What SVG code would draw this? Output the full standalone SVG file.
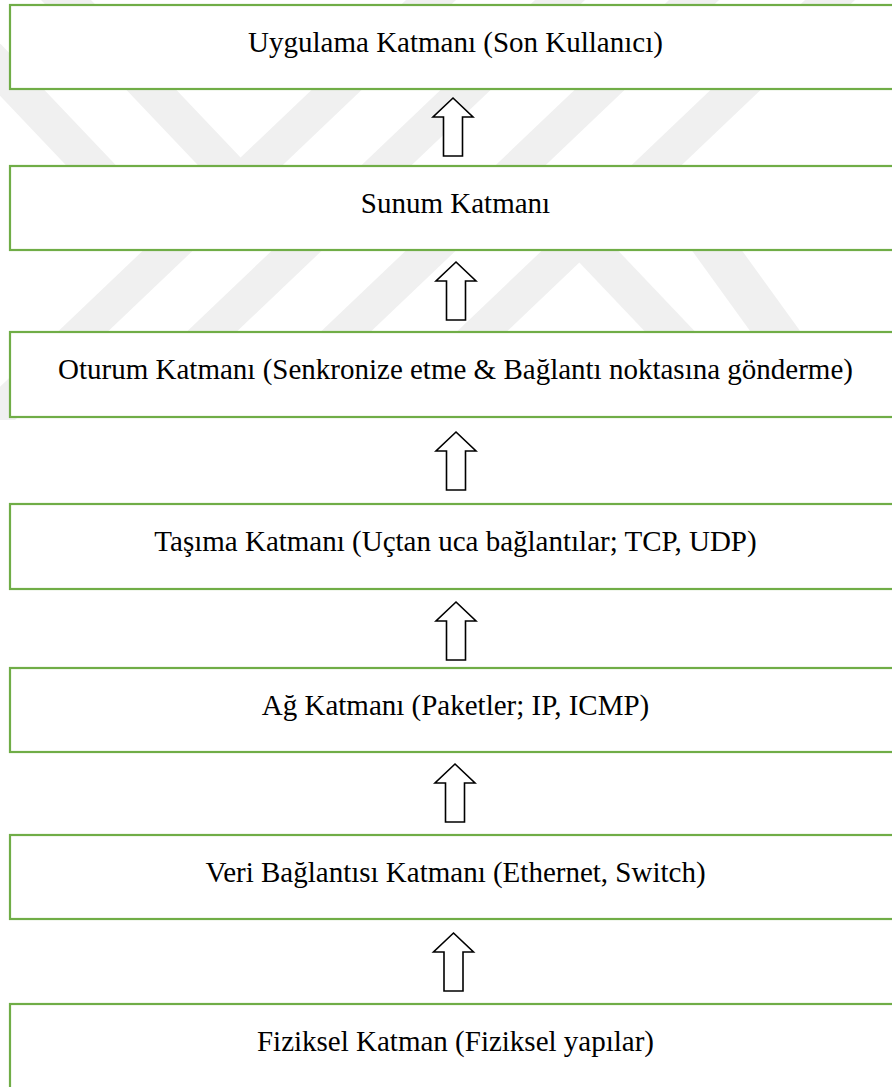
<svg xmlns="http://www.w3.org/2000/svg" width="892" height="1087" viewBox="0 0 892 1087">
<style>
.box{fill:#ffffff;stroke:#70AD47;stroke-width:2.2}
.lbl{font-family:"Liberation Serif","Times New Roman",serif;font-size:29px;fill:#000000;text-anchor:middle}
.arr{fill:#ffffff;stroke:#000000;stroke-width:1.6;stroke-linejoin:miter}
.wm{fill:#f0f0f0}
</style>
<defs>
<clipPath id="wmclip"><rect x="0" y="0" width="892" height="420"/></clipPath>
<path id="up" d="M0,0 L20,19 L9.5,19 L9.5,58 L-9.5,58 L-9.5,19 L-20,19 Z"/>
</defs>
<g id="watermark" clip-path="url(#wmclip)">
<polygon class="wm" points="-91,0 -41,0 196.5,250 146.5,250"/>
<polygon class="wm" points="41,0 91,0 271.5,190 221.5,190"/>
<polygon class="wm" points="548.5,230 598.5,230 760,400 710,400"/>
<polygon class="wm" points="641,180 691,180 850,400 800,400"/>
<polygon class="wm" points="406,0 456,0 -6,440 -56,440"/>
<polygon class="wm" points="535,0 585,0 165,400 115,400"/>
<polygon class="wm" points="669,0 719,0 299,400 249,400"/>
<polygon class="wm" points="805,0 855,0 435,400 385,400"/>
</g>
<g id="connectors">
<use href="#up" class="arr" x="453" y="98"/>
<use href="#up" class="arr" x="456" y="262"/>
<use href="#up" class="arr" x="456" y="432"/>
<use href="#up" class="arr" x="456" y="602"/>
<use href="#up" class="arr" x="455" y="764"/>
<use href="#up" class="arr" x="453.5" y="933"/>
</g>
<g id="n1"><rect class="box" x="10" y="5" width="891" height="84"/><text class="lbl" x="455.5" y="52">Uygulama Katmanı (Son Kullanıcı)</text></g>
<g id="n2"><rect class="box" x="10" y="166" width="891" height="84"/><text class="lbl" x="455.5" y="213">Sunum Katmanı</text></g>
<g id="n3"><rect class="box" x="10" y="332" width="891" height="85"/><text class="lbl" x="455.5" y="379">Oturum Katmanı (Senkronize etme &amp; Bağlantı noktasına gönderme)</text></g>
<g id="n4"><rect class="box" x="10" y="504" width="891" height="85"/><text class="lbl" x="455.5" y="551">Taşıma Katmanı (Uçtan uca bağlantılar; TCP, UDP)</text></g>
<g id="n5"><rect class="box" x="10" y="668" width="891" height="84"/><text class="lbl" x="455.5" y="715">Ağ Katmanı (Paketler; IP, ICMP)</text></g>
<g id="n6"><rect class="box" x="10" y="835" width="891" height="84"/><text class="lbl" x="455.5" y="882">Veri Bağlantısı Katmanı (Ethernet, Switch)</text></g>
<g id="n7"><rect class="box" x="10" y="1004" width="891" height="90"/><text class="lbl" x="455.5" y="1051">Fiziksel Katman (Fiziksel yapılar)</text></g>
</svg>
